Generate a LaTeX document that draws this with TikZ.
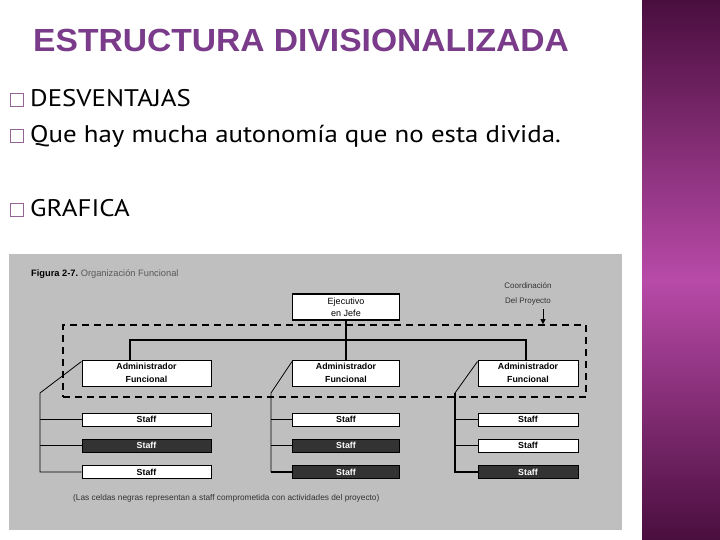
\documentclass[tikz,border=0pt]{standalone}
\usepackage{fontspec}
\setmainfont[FakeStretch=1.12]{PT Sans}
\newfontfamily\titlefont[FakeStretch=1.05]{Liberation Sans}
\newfontfamily\figfont{Liberation Sans}
\usetikzlibrary{arrows.meta,positioning,calc}
\definecolor{titlepurple}{HTML}{7A3C8A}
\definecolor{bulletpurple}{HTML}{946494}
\definecolor{figgray}{HTML}{BFBFBF}
\definecolor{cellblack}{HTML}{333333}
\definecolor{stripdark}{HTML}{4A0E3E}
\definecolor{stripmid}{HTML}{B84AA8}

\begin{document}
\begin{tikzpicture}[
  x=1pt, y=-1pt,
  font=\figfont\fontsize{8}{9}\selectfont,
  bullet/.style={draw=bulletpurple, line width=1pt, minimum size=12.5pt, inner sep=0pt, anchor=south west},
  bultext/.style={anchor=base west, inner sep=0pt, font=\rmfamily\fontsize{24}{28}\selectfont},
  execbox/.style={draw, line width=1.8pt, fill=white, align=center, minimum width=107pt, minimum height=26pt,
                  inner sep=1pt, font=\figfont\fontsize{9}{12}\selectfont},
  adminbox/.style={draw, line width=1pt, fill=white, align=center, minimum height=26pt, inner sep=1pt,
                   font=\figfont\bfseries\fontsize{8.8}{13}\selectfont},
  staffw/.style={draw, line width=1pt, fill=white, minimum height=13pt, inner sep=0pt,
                 font=\figfont\bfseries\fontsize{8.8}{9}\selectfont},
  staffb/.style={staffw, fill=cellblack, text=white},
  wire/.style={line width=0.8pt},
  thick wire/.style={line width=1.8pt},
  arr/.style={line width=0.8pt, -{Triangle[length=5pt,width=5pt]}}
]
\useasboundingbox (0,0) rectangle (720,540);
\fill[white] (0,0) rectangle (720,540);
% side strip
\shade[top color=stripdark, bottom color=stripmid] (642,0) rectangle (720,280);
\shade[top color=stripmid, bottom color=stripdark] (642,280) rectangle (720,540);

% title and bullets
\node[anchor=base west, inner sep=0pt, text=titlepurple, font=\titlefont\bfseries\fontsize{32}{33}\selectfont] (title) at (33,52) {ESTRUCTURA DIVISIONALIZADA};
\node[bullet] (b1) at (10,107) {};
\node[bultext] (t1) at (30,107) {DESVENTAJAS};
\node[bullet] (b2) at (10,143) {};
\node[bultext] (t2) at (30,143) {Que hay mucha autonomía que no esta divida.};
\node[bullet] (b3) at (10,217) {};
\node[bultext] (t3) at (30,217) {GRAFICA};

% figure
\fill[figgray] (9,254) rectangle (622,530);
\node[anchor=base west, inner sep=0pt, font=\figfont\fontsize{9.3}{10}\selectfont] (fig) at (31,276) {\textbf{Figura 2-7.}\ \textcolor{black!65}{Organización Funcional}};
\node[align=center, text=black!80, font=\figfont\fontsize{8}{15}\selectfont] (coord) at (528,294) {Coordinación\\Del Proyecto};
\node[execbox] (exec) at (346,307) {Ejecutivo\\en Jefe};

\node[draw, line width=1.6pt, dash pattern=on 7pt off 5pt, minimum width=523pt, minimum height=72pt] (proj) at (324.5,361) {};
\coordinate (ca) at (543,309);
\draw[arr] (ca) -- (ca |- proj.north);

\node[adminbox, minimum width=129pt] (ad1) at (146.5,373) {Administrador\\Funcional};
\node[adminbox, minimum width=107pt] (ad2) at (346,373) {Administrador\\Funcional};
\node[adminbox, minimum width=100pt] (ad3) at (528,373) {Administrador\\Funcional};

\coordinate (busL) at (130,340);
\coordinate (busR) at (526,340);
\draw[thick wire] (exec.south) -- (ad2.north);
\draw[thick wire] (ad1.north -| busL) -- (busL) -- (busR) -- (ad3.north -| busR);

\node[staffw, minimum width=129pt] (s11) at (146.5,419.5) {Staff};
\node[staffb, minimum width=129pt] (s12) at (146.5,445.5) {Staff};
\node[staffw, minimum width=129pt] (s13) at (146.5,472) {Staff};
\node[staffw, minimum width=107pt] (s21) at (346,419.5) {Staff};
\node[staffb, minimum width=107pt] (s22) at (346,445.5) {Staff};
\node[staffb, minimum width=107pt] (s23) at (346,472) {Staff};
\node[staffw, minimum width=100pt] (s31) at (528,419.5) {Staff};
\node[staffw, minimum width=100pt] (s32) at (528,445.5) {Staff};
\node[staffb, minimum width=100pt] (s33) at (528,472) {Staff};

\coordinate (br1) at (40,393);
\coordinate (br2) at (271,393);
\coordinate (br3) at (455,393);
\draw[wire] ([yshift=-2pt]ad1.north west) -- (br1) |- (s13.west);
\draw[wire] (s11.west -| br1) -- (s11.west);
\draw[wire] (s12.west -| br1) -- (s12.west);
\draw[wire] ([yshift=-2pt]ad2.north west) -- (br2) |- (s23.west);
\draw[wire] (s21.west -| br2) -- (s21.west);
\draw[thick wire] (s22.west -| br2) -- (s22.west);
\draw[thick wire] (s23.west -| br2) -- (s23.west);
\draw[wire] ([yshift=-2pt]ad3.north west) -- (br3);
\draw[thick wire] (br3) |- (s33.west);
\draw[thick wire] (s31.west -| br3) -- (s31.west);
\draw[wire] (s32.west -| br3) -- (s32.west);

\node[anchor=base west, inner sep=0pt, text=black!80, font=\figfont\fontsize{8.3}{9}\selectfont] (note) at (73,500) {(Las celdas negras representan a staff comprometida con actividades del proyecto)};
\end{tikzpicture}
\end{document}
